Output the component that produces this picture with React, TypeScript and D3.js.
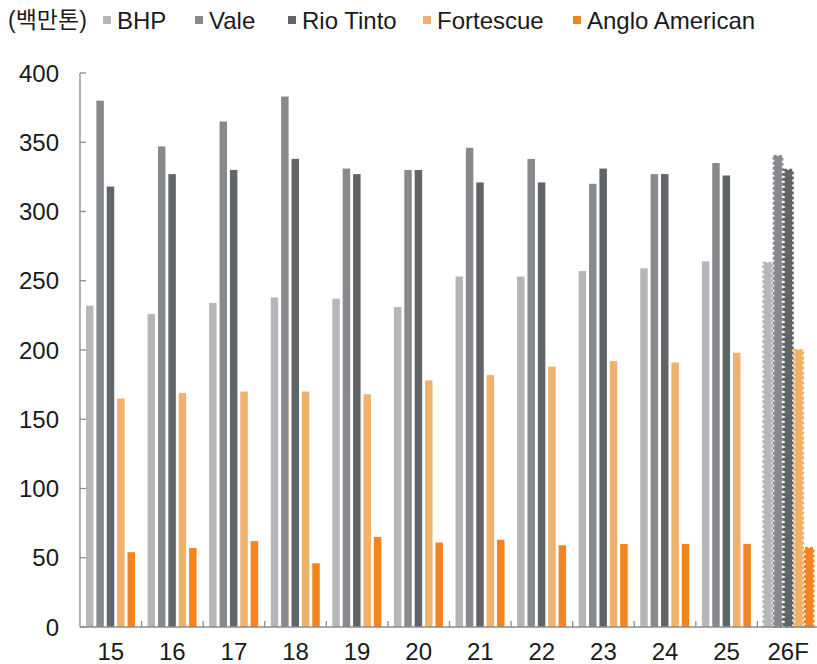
import React from "react";
import * as d3 from "d3";

const categories = ["15", "16", "17", "18", "19", "20", "21", "22", "23", "24", "25", "26F"];
const seriesNames = ["BHP", "Vale", "Rio Tinto", "Fortescue", "Anglo American"];
const bhp = [232, 226, 234, 238, 237, 231, 253, 253, 257, 259, 264, 263];
const vale = [380, 347, 365, 383, 331, 330, 346, 338, 320, 327, 335, 340];
const rio = [318, 327, 330, 338, 327, 330, 321, 321, 331, 327, 326, 330];
const fortescue = [165, 169, 170, 170, 168, 178, 182, 188, 192, 191, 198, 200];
const anglo = [54, 57, 62, 46, 65, 61, 63, 59, 60, 60, 60, 57];
const yTicks = [0, 50, 100, 150, 200, 250, 300, 350, 400];
const colors = ["#b5b6b8", "#88898c", "#626567", "#f0b16b", "#f3841f"];
const forecastCategory = "26F";

const W = 817;
const H = 664;
const FONT = "'Liberation Sans', Arial, 'Noto Sans CJK KR', sans-serif";

export default function App() {
  const series = [bhp, vale, rio, fortescue, anglo];
  const x = d3.scaleBand<string>().domain(categories).range([80, 819]).paddingInner(0).paddingOuter(0);
  const y = d3.scaleLinear().domain([0, 400]).range([627, 73]);
  const inner = d3
    .scaleBand<number>()
    .domain(d3.range(series.length))
    .range([6, 55])
    .paddingInner(0.28)
    .paddingOuter(0);
  const bw = inner.bandwidth();

  const legendX = [103, 195, 288, 423, 573];

  return (
    <svg width={W} height={H} style={{ position: "absolute", left: 0, top: 0, background: "#fff" }}>
      <rect x={0} y={0} width={W} height={H} fill="#fff" />
      {categories.map((c, ci) =>
        series.map((s, si) => {
          const x0 = (x(c) as number) + (inner(si) as number);
          const yv = y(s[ci]);
          const h = y(0) - yv;
          if (c === forecastCategory) {
            return (
              <g key={`${ci}-${si}`}>
                <rect x={x0 + 0.5} y={yv} width={bw} height={h} fill={colors[si]} />
                <rect
                  x={x0}
                  y={yv}
                  width={bw + 1}
                  height={h}
                  fill="none"
                  stroke={colors[si]}
                  strokeWidth={2.2}
                  strokeDasharray="3,2"
                />
              </g>
            );
          }
          return <rect key={`${ci}-${si}`} x={x0} y={yv} width={bw} height={h} fill={colors[si]} />;
        })
      )}
      <line x1={80} x2={80} y1={73} y2={627} stroke="#8c8c8c" strokeWidth={1.3} />
      {yTicks.map((t) => (
        <g key={t}>
          <line x1={80} x2={86} y1={y(t)} y2={y(t)} stroke="#8c8c8c" strokeWidth={1.3} />
          <text x={59} y={y(t)} dy="0.36em" textAnchor="end" fontFamily={FONT} fontSize={24} fill="#1a1a1a">
            {t}
          </text>
        </g>
      ))}
      <line x1={80} x2={817} y1={627} y2={627} stroke="#8c8c8c" strokeWidth={1.3} />
      {categories.map((c, i) => (
        <g key={c}>
          {i > 0 && (
            <line
              x1={x(c) as number}
              x2={x(c) as number}
              y1={627}
              y2={621}
              stroke="#8c8c8c"
              strokeWidth={1.3}
            />
          )}
          <text
            x={(x(c) as number) + x.bandwidth() / 2}
            y={651}
            dy="0.36em"
            textAnchor="middle"
            fontFamily={FONT}
            fontSize={24}
            fill="#1a1a1a"
          >
            {c}
          </text>
        </g>
      ))}
      <text x={8} y={20} dy="0.36em" fontFamily={FONT} fontSize={23} fill="#1a1a1a">
        (백만톤)
      </text>
      {seriesNames.map((n, i) => (
        <g key={n}>
          <rect x={legendX[i]} y={16} width={8} height={8} fill={colors[i]} />
          <text x={legendX[i] + 14} y={20} dy="0.36em" fontFamily={FONT} fontSize={24} fill="#1a1a1a">
            {n}
          </text>
        </g>
      ))}
    </svg>
  );
}
